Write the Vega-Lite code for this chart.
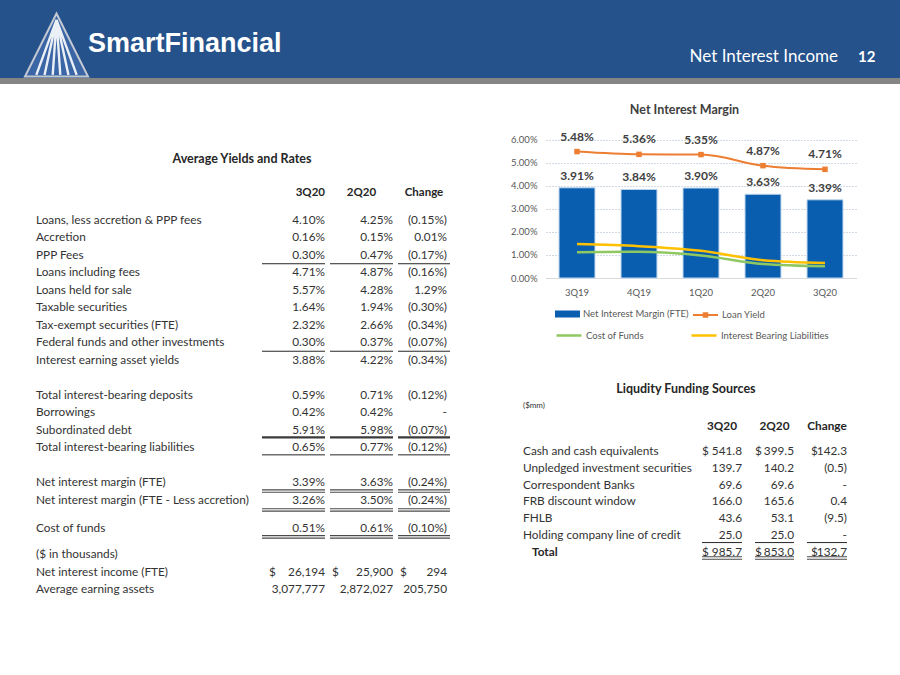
{
  "$schema": "https://vega.github.io/schema/vega-lite/v6.json",
  "padding": 0,
  "background": "white",
  "datasets": {
    "avg": [
      {"line": -1.54, "label": "", "q3": "3Q20", "q2": "2Q20", "chg": "Change", "kind": "header"},
      {"line": 0, "label": "Loans, less accretion & PPP fees", "q3": "4.10%", "q2": "4.25%", "chg": "(0.15%)", "kind": "row"},
      {"line": 1, "label": "Accretion", "q3": "0.16%", "q2": "0.15%", "chg": "0.01%", "kind": "row"},
      {"line": 2, "label": "PPP Fees", "q3": "0.30%", "q2": "0.47%", "chg": "(0.17%)", "kind": "row"},
      {"line": 3, "label": "Loans including fees", "q3": "4.71%", "q2": "4.87%", "chg": "(0.16%)", "kind": "row"},
      {"line": 4, "label": "Loans held for sale", "q3": "5.57%", "q2": "4.28%", "chg": "1.29%", "kind": "row"},
      {"line": 5, "label": "Taxable securities", "q3": "1.64%", "q2": "1.94%", "chg": "(0.30%)", "kind": "row"},
      {"line": 6, "label": "Tax-exempt securities (FTE)", "q3": "2.32%", "q2": "2.66%", "chg": "(0.34%)", "kind": "row"},
      {"line": 7, "label": "Federal funds and other investments", "q3": "0.30%", "q2": "0.37%", "chg": "(0.07%)", "kind": "row"},
      {"line": 8, "label": "Interest earning asset yields", "q3": "3.88%", "q2": "4.22%", "chg": "(0.34%)", "kind": "row"},
      {"line": 10, "label": "Total interest-bearing deposits", "q3": "0.59%", "q2": "0.71%", "chg": "(0.12%)", "kind": "row"},
      {"line": 11, "label": "Borrowings", "q3": "0.42%", "q2": "0.42%", "chg": "-", "kind": "row"},
      {"line": 12, "label": "Subordinated debt", "q3": "5.91%", "q2": "5.98%", "chg": "(0.07%)", "kind": "row"},
      {"line": 13, "label": "Total interest-bearing liabilities", "q3": "0.65%", "q2": "0.77%", "chg": "(0.12%)", "kind": "row"},
      {"line": 15, "label": "Net interest margin (FTE)", "q3": "3.39%", "q2": "3.63%", "chg": "(0.24%)", "kind": "row"},
      {"line": 16, "label": "Net interest margin (FTE - Less accretion)", "q3": "3.26%", "q2": "3.50%", "chg": "(0.24%)", "kind": "row"},
      {"line": 17.6, "label": "Cost of funds", "q3": "0.51%", "q2": "0.61%", "chg": "(0.10%)", "kind": "row"},
      {"line": 19.1, "label": "($ in thousands)", "kind": "row"},
      {"line": 20.1, "label": "Net interest income (FTE)", "q3": "26,194", "q2": "25,900", "chg": "294", "cur": "$", "kind": "row"},
      {"line": 21.1, "label": "Average earning assets", "q3": "3,077,777", "q2": "2,872,027", "chg": "205,750", "kind": "row"}
    ],
    "avgRules": [
      {"line": 2.5, "style": "single"},
      {"line": 7.5, "style": "single"},
      {"line": 12.42, "style": "thick"},
      {"line": 13.42, "style": "single"},
      {"line": 15.49, "style": "double"},
      {"line": 16.57, "style": "double"},
      {"line": 18.11, "style": "double"}
    ],
    "liq": [
      {"line": -2.68, "label": "($mm)", "kind": "note"},
      {"line": -1.5, "label": "", "q3": "3Q20", "q2": "2Q20", "chg": "Change", "kind": "header"},
      {"line": 0, "label": "Cash and cash equivalents", "q3": "541.8", "q2": "399.5", "chg": "142.3", "cur": "$", "kind": "row"},
      {"line": 1, "label": "Unpledged investment securities", "q3": "139.7", "q2": "140.2", "chg": "(0.5)", "kind": "row"},
      {"line": 2, "label": "Correspondent Banks", "q3": "69.6", "q2": "69.6", "chg": "-", "kind": "row"},
      {"line": 3, "label": "FRB discount window", "q3": "166.0", "q2": "165.6", "chg": "0.4", "kind": "row"},
      {"line": 4, "label": "FHLB", "q3": "43.6", "q2": "53.1", "chg": "(9.5)", "kind": "row"},
      {"line": 5, "label": "Holding company line of credit", "q3": "25.0", "q2": "25.0", "chg": "-", "kind": "row"},
      {"line": 6, "label": "Total", "q3": "985.7", "q2": "853.0", "chg": "132.7", "cur": "$", "kind": "total"}
    ],
    "liqRules": [
      {"line": 5.45, "style": "single"},
      {"line": 6.37, "style": "double"}
    ],
    "nim": [
      {"quarter": "3Q19", "series": "Net Interest Margin (FTE)", "value": 0.0391},
      {"quarter": "4Q19", "series": "Net Interest Margin (FTE)", "value": 0.0384},
      {"quarter": "1Q20", "series": "Net Interest Margin (FTE)", "value": 0.0390},
      {"quarter": "2Q20", "series": "Net Interest Margin (FTE)", "value": 0.0363},
      {"quarter": "3Q20", "series": "Net Interest Margin (FTE)", "value": 0.0339},
      {"quarter": "3Q19", "series": "Loan Yield", "value": 0.0548},
      {"quarter": "4Q19", "series": "Loan Yield", "value": 0.0536},
      {"quarter": "1Q20", "series": "Loan Yield", "value": 0.0535},
      {"quarter": "2Q20", "series": "Loan Yield", "value": 0.0487},
      {"quarter": "3Q20", "series": "Loan Yield", "value": 0.0471},
      {"quarter": "3Q19", "series": "Cost of Funds", "value": 0.0112},
      {"quarter": "4Q19", "series": "Cost of Funds", "value": 0.0114},
      {"quarter": "1Q20", "series": "Cost of Funds", "value": 0.0098},
      {"quarter": "2Q20", "series": "Cost of Funds", "value": 0.0061},
      {"quarter": "3Q20", "series": "Cost of Funds", "value": 0.0051},
      {"quarter": "3Q19", "series": "Interest Bearing Liabilities", "value": 0.0147},
      {"quarter": "4Q19", "series": "Interest Bearing Liabilities", "value": 0.0138},
      {"quarter": "1Q20", "series": "Interest Bearing Liabilities", "value": 0.0118},
      {"quarter": "2Q20", "series": "Interest Bearing Liabilities", "value": 0.0077},
      {"quarter": "3Q20", "series": "Interest Bearing Liabilities", "value": 0.0065}
    ],
    "banner": [
      {"item": "logo", "order": 1},
      {"item": "brand", "order": 2, "text": "SmartFinancial"},
      {"item": "section", "order": 3, "text": "Net Interest Income"},
      {"item": "page", "order": 4, "text": "12"}
    ]
  },
  "vconcat": [
    {
      "width": 900,
      "height": 78,
      "view": {"stroke": null, "fill": "#25528b"},
      "data": {"name": "banner"},
      "encoding": {
        "x": {"field": "order", "type": "quantitative", "axis": null, "scale": {"domain": [1, 2, 3, 4], "range": [56.5, 88, 838, 858], "nice": false, "zero": false}},
        "y": {"field": "order", "type": "quantitative", "axis": null, "scale": {"domain": [1, 2, 3, 4], "range": [45, 44, 57, 57], "nice": false, "zero": false}}
      },
      "layer": [
        {
          "transform": [{"filter": "datum.item === 'logo'"}],
          "mark": {"type": "point", "shape": "M0,-1L1,1L-1,1Z", "size": 3969, "filled": true, "opacity": 1, "fill": "#3a66a6", "stroke": "#c3c9d2", "strokeWidth": 2}
        },
        {
          "transform": [{"filter": "datum.item === 'logo'"}],
          "mark": {"type": "point", "shape": "M0,-0.8L-0.64,0.95M0,-0.8L-0.38,0.95M0,-0.8L-0.12,0.95M0,-0.8L0.12,0.95M0,-0.8L0.38,0.95M0,-0.8L0.64,0.95", "size": 3969, "filled": false, "opacity": 0.9, "stroke": "#ffffff", "strokeWidth": 2.4}
        },
        {
          "transform": [{"filter": "datum.item === 'brand'"}],
          "mark": {"type": "text", "align": "left", "baseline": "middle", "font": "Liberation Sans", "fontWeight": "bold", "fontSize": 27, "color": "#ffffff"},
          "encoding": {"text": {"field": "text"}}
        },
        {
          "transform": [{"filter": "datum.item === 'section'"}],
          "mark": {"type": "text", "align": "right", "baseline": "middle", "font": "Lato", "fontSize": 17, "color": "#ffffff"},
          "encoding": {"text": {"field": "text"}}
        },
        {
          "transform": [{"filter": "datum.item === 'page'"}],
          "mark": {"type": "text", "align": "left", "baseline": "middle", "font": "Lato", "fontWeight": "bold", "fontSize": 15, "color": "#ffffff"},
          "encoding": {"text": {"field": "text"}}
        }
      ]
    },
    {
      "width": 900,
      "height": 6,
      "view": {"stroke": null, "fill": "#858585"},
      "data": {"values": []},
      "mark": "point"
    },
    {
      "spacing": 5,
      "bounds": "flush",
      "hconcat": [
        {"width": 31, "height": 1, "data": {"values": []}, "mark": "point"},
        {
          "width": 221, "height": 591, "data": {"name": "avg"},
          "title": {"text": "Average Yields and Rates", "frame": "group", "anchor": "middle", "dx": 95.5, "fontSize": 12.5, "fontWeight": "bold", "font": "Lato", "color": "#262626", "baseline": "middle", "offset": 0, "dy": 87},
          "encoding": {"y": {"field": "line", "type": "quantitative", "axis": null, "scale": {"domain": [-7.7714, 26], "reverse": true, "nice": false, "zero": false}}},
          "layer": [
            {"transform": [{"filter": "datum.kind === 'row'"}], "mark": {"type": "text", "align": "left"}, "encoding": {"x": {"value": 0}, "text": {"field": "label"}}}
          ]
        },
        {
          "width": 63, "height": 591, "data": {"name": "avg"},
          "encoding": {"y": {"field": "line", "type": "quantitative", "axis": null, "scale": {"domain": [-7.7714, 26], "reverse": true, "nice": false, "zero": false}}},
          "layer": [
            {"transform": [{"filter": "datum.kind === 'row' && isValid(datum.q3)"}], "mark": {"type": "text", "align": "right"}, "encoding": {"x": {"value": "width"}, "text": {"field": "q3"}}},
            {"transform": [{"filter": "datum.kind === 'header'"}], "mark": {"type": "text", "align": "right", "fontWeight": "bold", "fontSize": 11.5, "color": "#262626"}, "encoding": {"x": {"value": "width"}, "text": {"field": "q3"}}},
            {"transform": [{"filter": "isValid(datum.cur)"}], "mark": {"type": "text", "align": "left", "dx": 7}, "encoding": {"x": {"value": 0}, "text": {"field": "cur"}}},
            {"data": {"name": "avgRules"}, "transform": [{"filter": "datum.style === 'single'"}], "mark": {"type": "rule", "color": "#262626", "strokeWidth": 1}, "encoding": {}},
            {"data": {"name": "avgRules"}, "transform": [{"filter": "datum.style === 'thick'"}], "mark": {"type": "rule", "color": "#3a3a3a", "strokeWidth": 2.2}, "encoding": {}},
            {"data": {"name": "avgRules"}, "transform": [{"filter": "datum.style === 'double'"}], "mark": {"type": "rule", "color": "#4a4a4a", "strokeWidth": 3.6}, "encoding": {}},
            {"data": {"name": "avgRules"}, "transform": [{"filter": "datum.style === 'double'"}], "mark": {"type": "rule", "color": "#ffffff", "strokeWidth": 1.3}, "encoding": {}}
          ]
        },
        {
          "width": 63, "height": 591, "data": {"name": "avg"},
          "encoding": {"y": {"field": "line", "type": "quantitative", "axis": null, "scale": {"domain": [-7.7714, 26], "reverse": true, "nice": false, "zero": false}}},
          "layer": [
            {"transform": [{"filter": "datum.kind === 'row' && isValid(datum.q2)"}], "mark": {"type": "text", "align": "right"}, "encoding": {"x": {"value": "width"}, "text": {"field": "q2"}}},
            {"transform": [{"filter": "datum.kind === 'header'"}], "mark": {"type": "text", "align": "center", "fontWeight": "bold", "fontSize": 11.5, "color": "#262626"}, "encoding": {"text": {"field": "q2"}}},
            {"transform": [{"filter": "isValid(datum.cur)"}], "mark": {"type": "text", "align": "left", "dx": 2}, "encoding": {"x": {"value": 0}, "text": {"field": "cur"}}},
            {"data": {"name": "avgRules"}, "transform": [{"filter": "datum.style === 'single'"}], "mark": {"type": "rule", "color": "#262626", "strokeWidth": 1}, "encoding": {}},
            {"data": {"name": "avgRules"}, "transform": [{"filter": "datum.style === 'thick'"}], "mark": {"type": "rule", "color": "#3a3a3a", "strokeWidth": 2.2}, "encoding": {}},
            {"data": {"name": "avgRules"}, "transform": [{"filter": "datum.style === 'double'"}], "mark": {"type": "rule", "color": "#4a4a4a", "strokeWidth": 3.6}, "encoding": {}},
            {"data": {"name": "avgRules"}, "transform": [{"filter": "datum.style === 'double'"}], "mark": {"type": "rule", "color": "#ffffff", "strokeWidth": 1.3}, "encoding": {}}
          ]
        },
        {
          "width": 52, "height": 591, "data": {"name": "avg"},
          "encoding": {"y": {"field": "line", "type": "quantitative", "axis": null, "scale": {"domain": [-7.7714, 26], "reverse": true, "nice": false, "zero": false}}},
          "layer": [
            {"transform": [{"filter": "datum.kind === 'row' && isValid(datum.chg)"}], "mark": {"type": "text", "align": "right", "dx": -3}, "encoding": {"x": {"value": "width"}, "text": {"field": "chg"}}},
            {"transform": [{"filter": "datum.kind === 'header'"}], "mark": {"type": "text", "align": "center", "fontWeight": "bold", "fontSize": 11.5, "color": "#262626"}, "encoding": {"text": {"field": "chg"}}},
            {"transform": [{"filter": "isValid(datum.cur)"}], "mark": {"type": "text", "align": "left", "dx": 2}, "encoding": {"x": {"value": 0}, "text": {"field": "cur"}}},
            {"data": {"name": "avgRules"}, "transform": [{"filter": "datum.style === 'single'"}], "mark": {"type": "rule", "color": "#262626", "strokeWidth": 1}, "encoding": {}},
            {"data": {"name": "avgRules"}, "transform": [{"filter": "datum.style === 'thick'"}], "mark": {"type": "rule", "color": "#3a3a3a", "strokeWidth": 2.2}, "encoding": {}},
            {"data": {"name": "avgRules"}, "transform": [{"filter": "datum.style === 'double'"}], "mark": {"type": "rule", "color": "#4a4a4a", "strokeWidth": 3.6}, "encoding": {}},
            {"data": {"name": "avgRules"}, "transform": [{"filter": "datum.style === 'double'"}], "mark": {"type": "rule", "color": "#ffffff", "strokeWidth": 1.3}, "encoding": {}}
          ]
        },
        {"width": 63, "height": 1, "data": {"values": []}, "mark": "point"},
        {
          "spacing": 0,
          "bounds": "flush",
          "vconcat": [
            {
              "width": 333,
              "height": 194,
              "title": {"text": "Net Interest Margin", "frame": "group", "anchor": "middle", "dx": -5, "fontSize": 12.5, "fontWeight": "bold", "font": "Lato", "color": "#404040", "baseline": "middle", "offset": 0, "dy": 38},
              "data": {"name": "nim"},
              "encoding": {
                "x": {"field": "quarter", "type": "ordinal", "sort": ["3Q19", "4Q19", "1Q20", "2Q20", "3Q20"], "scale": {"range": [23, 333], "paddingInner": 0.42, "paddingOuter": 0.21},
                  "axis": {"title": null, "labelAngle": 0, "ticks": false, "domainColor": "#d9d9d9", "labelPadding": 9, "labelFontSize": 9.5, "labelColor": "#595959", "labelFont": "Lato"}},
                "y": {"field": "value", "type": "quantitative", "scale": {"domain": [0, 0.0841], "nice": false, "zero": true},
                  "axis": {"title": null, "offset": -23, "values": [0, 0.01, 0.02, 0.03, 0.04, 0.05, 0.06], "format": ".2%", "domain": false, "ticks": false, "labelPadding": 9, "labelFontSize": 9.5, "labelColor": "#595959", "labelFont": "Lato", "gridColor": "#a3b3c4", "gridDash": [1, 2]}}
              },
              "layer": [
                {
                  "transform": [{"filter": "datum.series === 'Net Interest Margin (FTE)'"}],
                  "mark": {"type": "bar", "stroke": "#bdd7ee", "strokeWidth": 1},
                  "encoding": {"fill": {"field": "series", "type": "nominal", "scale": {"domain": ["Net Interest Margin (FTE)"], "range": ["#0A5EB0"]},
                    "legend": {"title": null, "orient": "none", "legendX": 555, "legendY": 301.5, "padding": 0, "symbolType": "M-1,-0.28H1V0.28H-1Z", "symbolSize": 625, "symbolStrokeWidth": 0, "labelOffset": 3, "labelFontSize": 9.5, "labelColor": "#595959", "labelFont": "Lato"}}}
                },
                {"transform": [{"filter": "datum.series === 'Net Interest Margin (FTE)'"}], "mark": {"type": "text", "dy": -12, "fontWeight": "bold", "fontSize": 12, "font": "Lato", "color": "#404040"}, "encoding": {"text": {"field": "value", "type": "quantitative", "format": ".2%"}}},
                {
                  "transform": [{"filter": "datum.series === 'Cost of Funds' || datum.series === 'Interest Bearing Liabilities'"}],
                  "mark": {"type": "line", "interpolate": "monotone", "strokeWidth": 2.5},
                  "encoding": {"stroke": {"field": "series", "type": "nominal", "scale": {"domain": ["Cost of Funds", "Interest Bearing Liabilities"], "range": ["#8FC860", "#FFC000"]},
                    "legend": {"title": null, "orient": "none", "legendX": 555, "legendY": 321.5, "padding": 0, "columns": 2, "direction": "horizontal", "columnPadding": 42, "symbolType": "M-1,0H1", "symbolSize": 625, "symbolStrokeWidth": 2.5, "labelOffset": 3, "labelFontSize": 9.5, "labelColor": "#595959", "labelFont": "Lato"}}}
                },
                {
                  "transform": [{"filter": "datum.series === 'Loan Yield'"}],
                  "mark": {"type": "line", "interpolate": "monotone", "strokeWidth": 2, "point": {"shape": "square", "size": 30, "filled": true, "opacity": 1}},
                  "encoding": {"color": {"field": "series", "type": "nominal", "scale": {"domain": ["Loan Yield"], "range": ["#ED7D31"]},
                    "legend": {"title": null, "orient": "none", "legendX": 692, "legendY": 301.5, "padding": 0, "symbolType": "M-1,0H1M-0.14,-0.14H0.14V0.14H-0.14Z", "symbolSize": 625, "symbolStrokeWidth": 2, "symbolFillColor": "#ED7D31", "symbolStrokeColor": "#ED7D31", "labelOffset": 3, "labelFontSize": 9.5, "labelColor": "#595959", "labelFont": "Lato"}}}
                },
                {"transform": [{"filter": "datum.series === 'Loan Yield'"}], "mark": {"type": "text", "dy": -15, "fontWeight": "bold", "fontSize": 12, "font": "Lato", "color": "#404040"}, "encoding": {"text": {"field": "value", "type": "quantitative", "format": ".2%"}}}
              ]
            },
            {
              "title": {"text": "Liqudity Funding Sources", "anchor": "middle", "fontSize": 12.5, "fontWeight": "bold", "font": "Lato", "color": "#262626", "baseline": "middle", "offset": 0, "dy": 123},
              "spacing": 13,
              "bounds": "flush",
              "hconcat": [
                {
                  "width": 166, "height": 397, "data": {"name": "liq"},
                  "encoding": {"y": {"field": "line", "type": "quantitative", "axis": null, "scale": {"domain": [-10.298, 13.333], "reverse": true, "nice": false, "zero": false}}},
                  "layer": [
                    {"transform": [{"filter": "datum.kind === 'row'"}], "mark": {"type": "text", "align": "left"}, "encoding": {"x": {"value": 0}, "text": {"field": "label"}}},
                    {"transform": [{"filter": "datum.kind === 'total'"}], "mark": {"type": "text", "align": "left", "fontWeight": "bold", "dx": 9, "color": "#262626"}, "encoding": {"x": {"value": 0}, "text": {"field": "label"}}},
                    {"transform": [{"filter": "datum.kind === 'note'"}], "mark": {"type": "text", "align": "left", "fontSize": 8}, "encoding": {"x": {"value": 0}, "text": {"field": "label"}}}
                  ]
                },
                {
                  "width": 40, "height": 397, "data": {"name": "liq"},
                  "encoding": {"y": {"field": "line", "type": "quantitative", "axis": null, "scale": {"domain": [-10.298, 13.333], "reverse": true, "nice": false, "zero": false}}},
                  "layer": [
                    {"transform": [{"filter": "(datum.kind === 'row' || datum.kind === 'total') && isValid(datum.q3)"}], "mark": {"type": "text", "align": "right"}, "encoding": {"x": {"value": "width"}, "text": {"field": "q3"}}},
                    {"transform": [{"filter": "datum.kind === 'header'"}], "mark": {"type": "text", "align": "center", "fontWeight": "bold", "fontSize": 11.8, "color": "#262626"}, "encoding": {"text": {"field": "q3"}}},
                    {"transform": [{"filter": "isValid(datum.cur)"}], "mark": {"type": "text", "align": "left"}, "encoding": {"x": {"value": 0}, "text": {"field": "cur"}}},
                    {"data": {"name": "liqRules"}, "transform": [{"filter": "datum.style === 'single'"}], "mark": {"type": "rule", "color": "#262626", "strokeWidth": 1}, "encoding": {}},
                    {"data": {"name": "liqRules"}, "transform": [{"filter": "datum.style === 'double'"}], "mark": {"type": "rule", "color": "#4a4a4a", "strokeWidth": 3.6}, "encoding": {}},
                    {"data": {"name": "liqRules"}, "transform": [{"filter": "datum.style === 'double'"}], "mark": {"type": "rule", "color": "#ffffff", "strokeWidth": 1.3}, "encoding": {}}
                  ]
                },
                {
                  "width": 39, "height": 397, "data": {"name": "liq"},
                  "encoding": {"y": {"field": "line", "type": "quantitative", "axis": null, "scale": {"domain": [-10.298, 13.333], "reverse": true, "nice": false, "zero": false}}},
                  "layer": [
                    {"transform": [{"filter": "(datum.kind === 'row' || datum.kind === 'total') && isValid(datum.q2)"}], "mark": {"type": "text", "align": "right"}, "encoding": {"x": {"value": "width"}, "text": {"field": "q2"}}},
                    {"transform": [{"filter": "datum.kind === 'header'"}], "mark": {"type": "text", "align": "center", "fontWeight": "bold", "fontSize": 11.8, "color": "#262626"}, "encoding": {"text": {"field": "q2"}}},
                    {"transform": [{"filter": "isValid(datum.cur)"}], "mark": {"type": "text", "align": "left"}, "encoding": {"x": {"value": 0}, "text": {"field": "cur"}}},
                    {"data": {"name": "liqRules"}, "transform": [{"filter": "datum.style === 'single'"}], "mark": {"type": "rule", "color": "#262626", "strokeWidth": 1}, "encoding": {}},
                    {"data": {"name": "liqRules"}, "transform": [{"filter": "datum.style === 'double'"}], "mark": {"type": "rule", "color": "#4a4a4a", "strokeWidth": 3.6}, "encoding": {}},
                    {"data": {"name": "liqRules"}, "transform": [{"filter": "datum.style === 'double'"}], "mark": {"type": "rule", "color": "#ffffff", "strokeWidth": 1.3}, "encoding": {}}
                  ]
                },
                {
                  "width": 40, "height": 397, "data": {"name": "liq"},
                  "encoding": {"y": {"field": "line", "type": "quantitative", "axis": null, "scale": {"domain": [-10.298, 13.333], "reverse": true, "nice": false, "zero": false}}},
                  "layer": [
                    {"transform": [{"filter": "(datum.kind === 'row' || datum.kind === 'total') && isValid(datum.chg)"}], "mark": {"type": "text", "align": "right"}, "encoding": {"x": {"value": "width"}, "text": {"field": "chg"}}},
                    {"transform": [{"filter": "datum.kind === 'header'"}], "mark": {"type": "text", "align": "center", "fontWeight": "bold", "fontSize": 11.8, "color": "#262626"}, "encoding": {"text": {"field": "chg"}}},
                    {"transform": [{"filter": "isValid(datum.cur)"}], "mark": {"type": "text", "align": "left", "dx": 4}, "encoding": {"x": {"value": 0}, "text": {"field": "cur"}}},
                    {"data": {"name": "liqRules"}, "transform": [{"filter": "datum.style === 'single'"}], "mark": {"type": "rule", "color": "#262626", "strokeWidth": 1}, "encoding": {}},
                    {"data": {"name": "liqRules"}, "transform": [{"filter": "datum.style === 'double'"}], "mark": {"type": "rule", "color": "#4a4a4a", "strokeWidth": 3.6}, "encoding": {}},
                    {"data": {"name": "liqRules"}, "transform": [{"filter": "datum.style === 'double'"}], "mark": {"type": "rule", "color": "#ffffff", "strokeWidth": 1.3}, "encoding": {}}
                  ]
                }
              ]
            }
          ]
        }
      ]
    }
  ],
  "spacing": 0,
  "bounds": "flush",
  "config": {
    "view": {"stroke": null},
    "font": "Lato",
    "text": {"font": "Lato", "fontSize": 11.8, "color": "#333333", "baseline": "middle"},
    "point": {"opacity": 1},
    "title": {"font": "Lato"}
  }
}
